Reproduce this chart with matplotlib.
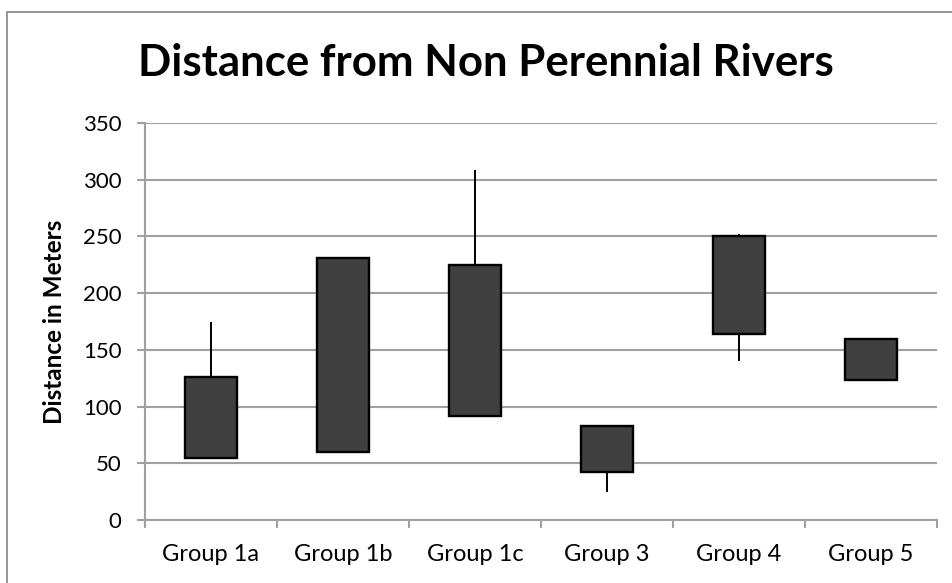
import matplotlib
matplotlib.use("Agg")
import matplotlib.pyplot as plt
from matplotlib.patches import Rectangle
import numpy as np

categories = ["Group 1a", "Group 1b", "Group 1c", "Group 3", "Group 4", "Group 5"]
high  = [175, 232, 309, 83, 252, 160]
low   = [55, 59, 92, 25, 140, 123]
open_ = [55, 60, 92, 42, 164, 123]
close = [126, 231, 225, 83, 250, 160]
yticks = [0, 50, 100, 150, 200, 250, 300, 350]

W, H = 953, 583
fig = plt.figure(figsize=(W / 100, H / 100), dpi=100)
fig.patch.set_facecolor("white")
font = "Lato"

# chart border (left and top visible)
fig.patches.append(Rectangle((6.5 / W, -0.1), 1.2, (H - 12) / H + 0.1,
                             transform=fig.transFigure, fill=False,
                             edgecolor="#8c8c8c", linewidth=1.3))

ax = fig.add_axes([145 / W, 1 - 520 / H, (937 - 145) / W, (520 - 123) / H])
x = np.arange(len(categories))
ax.set_xlim(-0.5, len(categories) - 0.5)
ax.set_ylim(0, 350)

ax.set_yticks(yticks)
ax.yaxis.grid(True, color="#a0a0a0", linewidth=1.5)
ax.set_axisbelow(True)
for s in ["top", "right"]:
    ax.spines[s].set_visible(False)
for s in ["left", "bottom"]:
    ax.spines[s].set_color("#a0a0a0")
    ax.spines[s].set_linewidth(1.5)

ax.vlines(x, low, high, color="black", linewidth=1.4, zorder=3)
heights = [c - o for c, o in zip(close, open_)]
ax.bar(x, heights, bottom=open_, width=0.4, color="#404040",
       edgecolor="black", linewidth=1.7, zorder=4)

# category ticks at boundaries
ax.set_xticks(np.arange(len(categories) + 1) - 0.5)
ax.set_xticklabels([])
ax.set_xticks(x, minor=True)
ax.set_xticklabels(categories, minor=True, fontfamily=font, fontsize=17)
ax.tick_params(axis="x", which="major", length=6, width=1.5, color="#a0a0a0", direction="out")
ax.tick_params(axis="x", which="minor", length=0, pad=17)
ax.tick_params(axis="y", length=6, width=1.5, color="#a0a0a0", pad=11)
for lab in ax.get_yticklabels():
    lab.set_fontfamily(font)
    lab.set_fontsize(16)

fig.text(55 / W, 1 - 321.5 / H, "Distance in Meters", rotation=90,
         ha="center", va="center", fontfamily=font, fontweight="bold", fontsize=17.5)
fig.text(486 / W, 1 - 76 / H, "Distance from Non Perennial Rivers",
         ha="center", va="baseline", fontfamily=font, fontweight="bold", fontsize=31.5)

fig.savefig("out.png", dpi=100)
